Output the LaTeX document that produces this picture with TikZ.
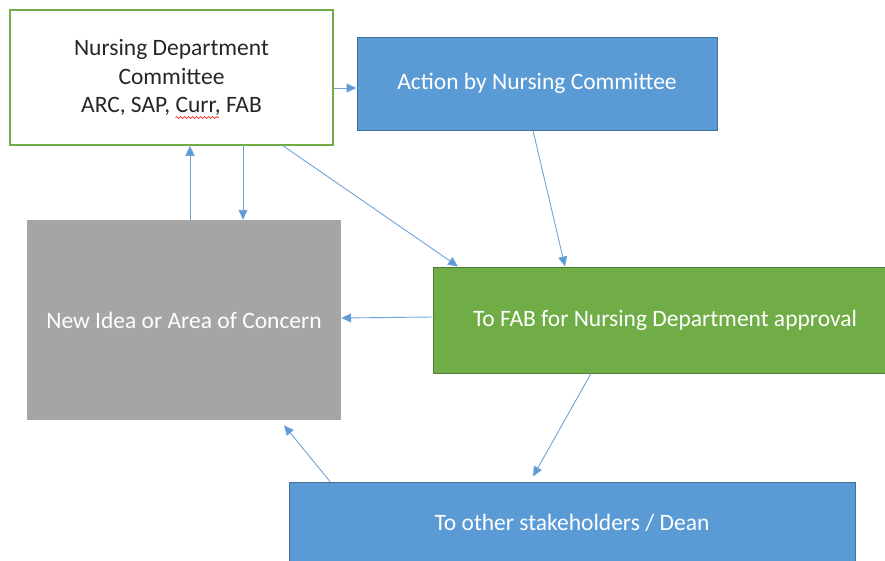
\documentclass[tikz,border=0pt]{standalone}
\usepackage{fontspec}
\setmainfont{Carlito}
\usetikzlibrary{arrows.meta,decorations.pathmorphing}
\definecolor{boxblue}{HTML}{5B9BD5}
\definecolor{edgeblue}{HTML}{41719C}
\definecolor{boxgreen}{HTML}{70AD47}
\definecolor{edgegreen}{HTML}{507E32}
\definecolor{boxgray}{HTML}{A5A5A5}
\definecolor{linkblue}{HTML}{6FA3D8}
\begin{document}
\begin{tikzpicture}[x=1pt, y=-1pt, font=\fontsize{23.5}{28.5}\selectfont]
\tikzstyle{box}=[rectangle, inner sep=0pt, align=center]
\tikzstyle{link}=[draw=linkblue, line width=0.9pt, -{Triangle[length=10pt, width=9pt, fill=boxblue]}]
    \useasboundingbox (0,0) rectangle (885,560);
    \clip (0,0) rectangle (885,560);
    \node [box, draw=boxgreen, line width=1.5pt, fill=white, text=black!85,
        minimum width=323pt, minimum height=135pt] (comm) at (171.5,77.5)
        {Nursing Department\\Committee\\ARC, SAP, Curr, FAB};
    \node [box, draw=edgeblue, line width=1pt, fill=boxblue, text=white,
        minimum width=360pt, minimum height=93pt] (action) at (537,83.5)
        {Action by Nursing Committee};
    \node [box, fill=boxgray, text=white,
        minimum width=314pt, minimum height=200pt] (idea) at (184,320)
        {New Idea or Area of Concern};
    \node [box, draw=edgegreen, line width=1pt, fill=boxgreen, text=white,
        minimum width=464pt, minimum height=106pt] (fab) at (665,320)
        {To FAB for Nursing Department approval};
    \node [box, draw=edgeblue, line width=1pt, fill=boxblue, text=white,
        minimum width=566pt, minimum height=82pt] (dean) at (572,523)
        {To other stakeholders / Dean};
    % spelling squiggle under Curr
    \draw [red, line width=0.6pt, decorate,
        decoration={snake, amplitude=1pt, segment length=4pt}]
        ([xshift=4pt, yshift=-40pt]comm.center) -- ([xshift=47pt, yshift=-40pt]comm.center);
    % connectors
    \draw [link] (comm.east |- 0,88) -- (action.west |- 0,88);
    \draw [link] (idea.north -| 190,0) -- (comm.south -| 190,0);
    \draw [link] (comm.south -| 243,0) -- (idea.north -| 243,0);
    \draw [link] (comm.south -| 283,0) -- (fab.north -| 458,0);
    \draw [link] (action.south -| 533,0) -- (fab.north -| 565,0);
    \draw [link] (fab.west |- 0,317) -- (idea.east |- 0,318);
    \draw [link] (fab.south -| 591,0) -- ([yshift=5pt]dean.north -| 533,0);
    \draw [link] (dean.north -| 330,0) -- ([yshift=-5pt]idea.south -| 284,0);
\end{tikzpicture}
\end{document}
